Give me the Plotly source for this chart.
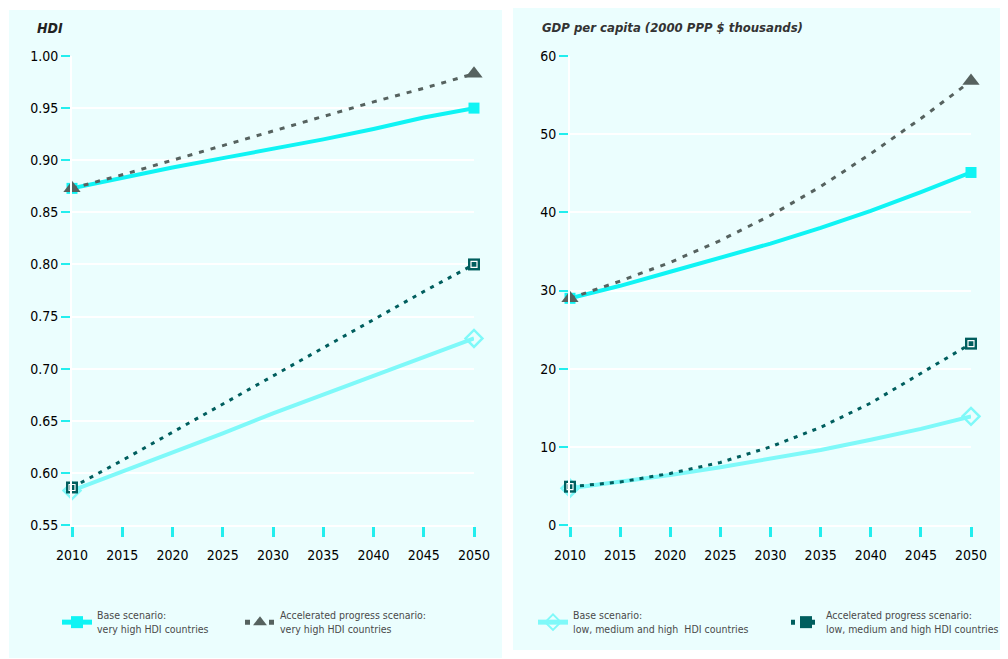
import plotly.graph_objects as go

years = [2010, 2015, 2020, 2025, 2030, 2035, 2040, 2045, 2050]

# HDI
hdi_vh_base = [0.873, 0.883, 0.893, 0.902, 0.911, 0.920, 0.930, 0.941, 0.950]
hdi_vh_acc = [0.873, 0.886, 0.900, 0.914, 0.928, 0.942, 0.956, 0.969, 0.983]
hdi_lmh_base = [0.583, 0.601, 0.620, 0.638, 0.657, 0.675, 0.693, 0.711, 0.729]
hdi_lmh_acc = [0.586, 0.612, 0.639, 0.666, 0.693, 0.720, 0.747, 0.774, 0.800]

# GDP per capita (2000 PPP $ thousands)
gdp_vh_base = [29.0, 30.6, 32.4, 34.2, 36.0, 38.0, 40.2, 42.6, 45.1]
gdp_vh_acc = [29.0, 31.2, 33.6, 36.4, 39.6, 43.3, 47.5, 52.0, 56.8]
gdp_lmh_base = [4.7, 5.5, 6.4, 7.4, 8.5, 9.6, 10.9, 12.3, 13.9]
gdp_lmh_acc = [4.9, 5.5, 6.6, 8.0, 10.0, 12.5, 15.6, 19.4, 23.2]

names = {
    "vh_base": "Base scenario:<br>very high HDI countries",
    "vh_acc": "Accelerated progress scenario:<br>very high HDI countries",
    "lmh_base": "Base scenario:<br>low, medium and high  HDI countries",
    "lmh_acc": "Accelerated progress scenario:<br>low, medium and high HDI countries",
}

hdi_ticks = [0.55, 0.60, 0.65, 0.70, 0.75, 0.80, 0.85, 0.90, 0.95, 1.00]
gdp_ticks = [0, 10, 20, 30, 40, 50, 60]

FONT = ("Liberation Sans Narrow, Arial Narrow, Noto Sans ExtraCondensed, "
        "Noto Sans Condensed, DejaVu Sans Condensed, sans-serif")
BG = "#ebfefe"
C_VH_BASE = "#0ff4f4"
C_VH_ACC = "#56625f"
C_LMH_BASE = "#7ff9f9"
C_LMH_ACC = "#005e5e"
TICK = "#22eeee"

# page has an 8px body margin; figure sized to fill the rest of the window
OFF = 8
W, H = 1000, 651


def px(x):
    return (x - OFF) / W


def py(y):
    return 1 - (y - OFF) / H


fig = go.Figure()


def end_sizes(n, size):
    return [size if i in (0, n - 1) else 0 for i in range(n)]


def add_panel(xa, ya, data, legends):
    vh_base, vh_acc, lmh_base, lmh_acc = data
    n = len(years)
    # low/medium/high base
    fig.add_trace(go.Scatter(
        x=years, y=lmh_base, mode="lines+markers", name=names["lmh_base"],
        line=dict(color=C_LMH_BASE, width=4),
        marker=dict(symbol="diamond-open", size=end_sizes(n, 13), color=C_LMH_BASE,
                    opacity=1, line=dict(width=2.5, color=C_LMH_BASE)),
        xaxis=xa, yaxis=ya, cliponaxis=False,
        showlegend="lmh_base" in legends, legend=legends.get("lmh_base", "legend")))
    # low/medium/high accelerated
    fig.add_trace(go.Scatter(
        x=years, y=lmh_acc, mode="lines+markers", name=names["lmh_acc"],
        line=dict(color=C_LMH_ACC, width=3, dash="4px,6px"),
        marker=dict(symbol="square", size=end_sizes(n, 12), color=C_LMH_ACC,
                    opacity=1, line=dict(width=0)),
        xaxis=xa, yaxis=ya, cliponaxis=False,
        showlegend="lmh_acc" in legends, legend=legends.get("lmh_acc", "legend")))
    fig.add_trace(go.Scatter(
        x=[years[0], years[-1]], y=[lmh_acc[0], lmh_acc[-1]], mode="markers",
        marker=dict(symbol="square-open", size=6, color="white", opacity=1,
                    line=dict(width=1.2, color="white")),
        xaxis=xa, yaxis=ya, cliponaxis=False, showlegend=False, hoverinfo="skip"))
    # very high base
    fig.add_trace(go.Scatter(
        x=years, y=vh_base, mode="lines+markers", name=names["vh_base"],
        line=dict(color=C_VH_BASE, width=4),
        marker=dict(symbol="square", size=end_sizes(n, 11), color=C_VH_BASE,
                    opacity=1, line=dict(width=0)),
        xaxis=xa, yaxis=ya, cliponaxis=False,
        showlegend="vh_base" in legends, legend=legends.get("vh_base", "legend")))
    # very high accelerated
    fig.add_trace(go.Scatter(
        x=years, y=vh_acc, mode="lines+markers", name=names["vh_acc"],
        line=dict(color=C_VH_ACC, width=3, dash="5px,7px"),
        marker=dict(symbol="triangle-up", size=end_sizes(n, 15), color=C_VH_ACC,
                    opacity=1, line=dict(width=0)),
        xaxis=xa, yaxis=ya, cliponaxis=False,
        showlegend="vh_acc" in legends, legend=legends.get("vh_acc", "legend")))


add_panel("x", "y", (hdi_vh_base, hdi_vh_acc, hdi_lmh_base, hdi_lmh_acc),
          {"vh_base": "legend", "vh_acc": "legend2"})
add_panel("x2", "y2", (gdp_vh_base, gdp_vh_acc, gdp_lmh_base, gdp_lmh_acc),
          {"lmh_base": "legend3", "lmh_acc": "legend4"})

ydom = [py(525), py(56)]

xcommon = dict(
    tickvals=years, ticks="outside", ticklen=10, tickwidth=3, tickcolor=TICK,
    showgrid=False, zeroline=False, showline=True, linecolor="white", linewidth=2,
    tickfont=dict(family=FONT, size=14, color="#000"), fixedrange=True, automargin=False,
    ticklabelstandoff=6,
)
ycommon = dict(
    ticks="outside", ticklen=9, tickwidth=2, tickcolor=TICK,
    showgrid=True, gridcolor="white", gridwidth=2, zeroline=False,
    showline=True, linecolor="white", linewidth=2,
    tickfont=dict(family=FONT, size=14, color="#000"), fixedrange=True, automargin=False,
)


def legend_at(xtext):
    return dict(orientation="v", xref="paper", yref="paper",
                x=px(xtext - 40), y=py(602), xanchor="left", yanchor="top",
                bgcolor="rgba(0,0,0,0)", borderwidth=0, itemsizing="constant",
                font=dict(family=FONT, size=10.5, color="#4a4a4a"))


fig.update_layout(
    width=W, height=H,
    margin=dict(l=0, r=0, t=0, b=0, pad=0, autoexpand=False),
    paper_bgcolor="white", plot_bgcolor=BG,
    xaxis=dict(domain=[px(72), px(474)], range=[2010, 2050], anchor="y", **xcommon),
    yaxis=dict(domain=ydom, range=[0.55, 1.00], tickvals=hdi_ticks,
               ticktext=[f"{v:.2f}" for v in hdi_ticks], anchor="x", **ycommon),
    xaxis2=dict(domain=[px(570), px(971)], range=[2010, 2050], anchor="y2", **xcommon),
    yaxis2=dict(domain=ydom, range=[0, 60], tickvals=gdp_ticks, anchor="x2", **ycommon),
    legend=legend_at(97),
    legend2=legend_at(280),
    legend3=legend_at(573),
    legend4=legend_at(826),
    shapes=[
        dict(type="rect", xref="paper", yref="paper", x0=px(9), x1=px(502),
             y0=py(658), y1=py(10), fillcolor=BG, line=dict(width=0), layer="below"),
        dict(type="rect", xref="paper", yref="paper", x0=px(513), x1=1,
             y0=py(650), y1=py(7), fillcolor=BG, line=dict(width=0), layer="below"),
    ],
    annotations=[
        dict(text="<b><i>HDI</i></b>", xref="paper", yref="paper", x=px(35), y=py(28),
             xanchor="left", yanchor="middle", showarrow=False,
             font=dict(family=FONT, size=14, color="#222")),
        dict(text="<b><i>GDP per capita (2000 PPP $ thousands)</i></b>", xref="paper",
             yref="paper", x=px(540), y=py(27), xanchor="left", yanchor="middle",
             showarrow=False, font=dict(family=FONT, size=13, color="#333")),
    ],
)

fig.write_html("out.html")
